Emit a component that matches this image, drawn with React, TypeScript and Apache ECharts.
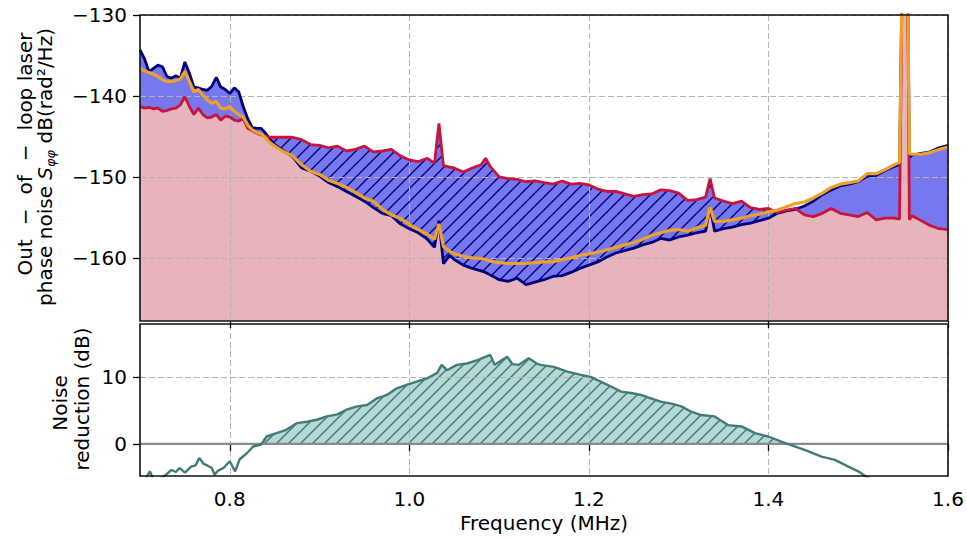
import React, { useEffect, useRef } from "react";
import * as echarts from "echarts";

// ---------- data ----------
const freq = [
  0.700, 0.705, 0.710, 0.715, 0.720, 0.725, 0.730, 0.735, 0.740, 0.745,
  0.750, 0.755, 0.760, 0.765, 0.770, 0.775, 0.780, 0.785, 0.790, 0.795,
  0.800, 0.805, 0.810, 0.815, 0.820, 0.825, 0.830, 0.835, 0.840, 0.845,
  0.850, 0.86, 0.87, 0.88, 0.89, 0.90, 0.91, 0.92, 0.93, 0.94,
  0.95, 0.96, 0.97, 0.98, 0.99, 1.00, 1.01, 1.02, 1.028, 1.033,
  1.038, 1.045, 1.05, 1.06, 1.07, 1.08, 1.085, 1.09, 1.10, 1.11,
  1.12, 1.13, 1.14, 1.15, 1.16, 1.17, 1.18, 1.19, 1.20, 1.21,
  1.22, 1.23, 1.24, 1.25, 1.26, 1.27, 1.28, 1.29, 1.30, 1.31,
  1.32, 1.33, 1.335, 1.34, 1.35, 1.36, 1.37, 1.38, 1.39, 1.40,
  1.41, 1.42, 1.43, 1.44, 1.45, 1.46, 1.47, 1.48, 1.49, 1.50,
  1.51, 1.52, 1.53, 1.54, 1.546, 1.549, 1.555, 1.557, 1.56, 1.57,
  1.58, 1.59, 1.60,
];

const noiseNavy = [
  -134.3, -135.4, -137.0, -136.6, -136.2, -136.4, -137.6, -137.8, -137.5, -137.8,
  -135.8, -137.2, -138.9, -139.0, -139.2, -139.3, -138.8, -137.7, -138.9, -139.2,
  -139.7, -139.0, -139.5, -141.3, -142.8, -143.9, -144.0, -144.0, -144.6, -145.4,
  -146.0, -146.8, -147.5, -148.9, -149.3, -149.9, -150.7, -151.2, -151.8, -152.4,
  -153.0, -153.8, -154.5, -154.8, -155.8, -156.4, -156.9, -157.7, -158.7, -155.4,
  -160.7, -159.7, -160.2, -160.9, -161.3, -161.6, -161.8, -162.1, -162.7, -162.9,
  -162.5, -163.3, -163.0, -162.7, -162.3, -162.2, -161.8, -161.3, -160.9, -160.5,
  -159.9, -159.4, -159.1, -158.8, -158.4, -158.1, -157.6, -157.8, -157.4, -157.2,
  -156.9, -156.7, -153.7, -156.7, -156.4, -156.2, -155.9, -155.7, -155.4, -155.1,
  -154.5, -154.2, -154.0, -153.6, -153.0, -152.2, -151.6, -151.1, -150.9, -150.6,
  -149.9, -149.8, -149.2, -148.7, -148.5, -125.0, -125.0, -147.6, -147.3, -147.1,
  -146.9, -146.4, -146.1,
];

const noiseRed = [
  -141.3, -141.5, -141.4, -141.6, -141.5, -141.9, -141.8, -141.6, -141.5, -141.1,
  -140.1, -141.3, -142.3, -141.5, -142.3, -142.7, -142.6, -142.3, -143.0, -142.5,
  -142.6, -143.0, -143.1, -142.8, -144.0, -144.3, -144.6, -144.8, -145.0, -145.1,
  -145.1, -145.1, -145.1, -145.4, -146.0, -146.1, -146.4, -146.2, -146.8, -146.6,
  -146.2, -146.9, -146.8, -146.6, -147.4, -147.9, -148.1, -147.7, -148.3, -143.4,
  -148.6, -148.8, -148.9, -149.4, -148.9, -148.5, -147.7, -148.7, -150.0, -150.2,
  -150.3, -150.6, -150.5, -150.7, -150.9, -150.5, -150.9, -150.8, -151.0, -151.5,
  -151.8, -151.8, -152.1, -152.4, -152.2, -152.1, -151.6, -151.7, -152.0, -152.9,
  -152.8, -152.5, -150.2, -152.6, -153.0, -153.3, -153.0, -153.8, -154.0, -153.9,
  -154.4, -154.1, -153.9, -154.7, -154.9, -154.5, -153.9, -154.5, -154.7, -154.9,
  -154.4, -155.3, -155.1, -155.1, -155.2, -125.0, -125.0, -155.3, -154.8, -155.4,
  -156.0, -156.4, -156.5,
];

const noiseOrange = [
  -136.6, -136.9, -137.1, -137.3, -137.6, -138.0, -138.2, -138.2, -138.1, -137.9,
  -137.0, -138.2, -139.5, -139.2, -139.9, -140.5, -140.9, -140.7, -141.5, -141.6,
  -141.3, -141.9, -142.3, -142.6, -143.6, -144.2, -144.5, -144.7, -145.2, -145.8,
  -146.2, -146.9, -147.4, -148.5, -149.3, -149.7, -150.4, -150.8, -151.3, -151.9,
  -152.6, -153.0, -154.0, -154.7, -155.1, -155.9, -156.5, -157.1, -157.7, -155.8,
  -158.6, -159.2, -159.5, -159.8, -160.0, -160.1, -160.2, -160.4, -160.6, -160.7,
  -160.7, -160.7, -160.6, -160.5, -160.5, -160.2, -160.0, -159.7, -159.5, -159.3,
  -159.0, -158.7, -158.4, -158.1, -157.7, -157.2, -156.9, -156.6, -156.5, -156.7,
  -156.3, -156.0, -153.7, -155.5, -155.5, -155.3, -155.1, -154.8, -154.6, -154.3,
  -154.1, -153.7, -153.3, -153.1, -152.6, -152.0, -151.3, -150.9, -150.7, -150.5,
  -149.6, -149.6, -149.1, -148.5, -148.2, -125.0, -125.0, -147.1, -147.2, -147.2,
  -147.0, -146.6, -146.3,
];

const reductionFreq = [
  0.700, 0.705, 0.711, 0.716, 0.722, 0.729, 0.735, 0.740, 0.744, 0.750,
  0.757, 0.762, 0.766, 0.771, 0.776, 0.780, 0.783, 0.787, 0.793, 0.800,
  0.806, 0.811, 0.819, 0.826, 0.835, 0.841, 0.852, 0.863, 0.875, 0.886,
  0.897, 0.908, 0.920, 0.930, 0.942, 0.953, 0.964, 0.975, 0.986, 0.997,
  1.008, 1.020, 1.031, 1.036, 1.042, 1.053, 1.064, 1.076, 1.090, 1.095,
  1.109, 1.115, 1.122, 1.133, 1.142, 1.146, 1.161, 1.176, 1.191, 1.202,
  1.213, 1.224, 1.236, 1.247, 1.258, 1.269, 1.280, 1.292, 1.303, 1.314,
  1.325, 1.340, 1.355, 1.370, 1.385, 1.400, 1.415, 1.430, 1.444, 1.459,
  1.474, 1.489, 1.500, 1.509, 1.520, 1.540, 1.560, 1.580, 1.600,
];

const reduction = [
  -6.0, -5.5, -4.1, -5.6, -5.3, -4.6, -3.9, -4.2, -3.6, -4.3,
  -3.4, -3.2, -2.1, -3.0, -3.3, -3.6, -4.6, -4.0, -3.6, -2.6,
  -4.1, -2.3, -1.4, -0.4, -0.1, 1.1, 1.6, 2.1, 3.1, 3.3,
  3.6, 4.1, 4.4, 5.1, 5.6, 5.8, 6.8, 7.3, 8.3, 8.8,
  9.3, 9.8, 10.6, 11.8, 11.0, 11.8, 12.0, 12.5, 13.3, 11.8,
  13.0, 11.9, 11.8, 12.8, 12.0, 11.8, 11.5, 10.8, 10.3, 10.0,
  9.3, 8.6, 7.8, 7.6, 7.3, 6.8, 6.3, 6.0, 5.6, 4.8,
  4.3, 4.1, 2.8, 2.6, 1.6, 1.1, 0.3, -0.4, -1.1, -1.9,
  -2.4, -3.4, -4.1, -4.9, -5.6, -7.0, -8.5, -10.0, -11.0,
];

const xTicks = [0.8, 1.0, 1.2, 1.4, 1.6];
const yTicksTop = [-160, -150, -140, -130];
const yTicksBottom = [0, 10];

// ---------- styles ----------
const FONT = "DejaVu Sans";
const BLUE = "#7777ee";
const PINK = "#e8b4bc";
const NAVY = "#00007f";
const RED = "#c8143c";
const ORANGE = "#eca22a";
const TEAL = "#427b78";
const TEAL_FILL = "#b4d9d6";
const GRID_C = "#b4b4b4";
const ZERO_C = "#8a8a8a";

function pairs(xs: number[], ys: number[]) {
  const n = Math.min(xs.length, ys.length);
  const out: number[][] = [];
  for (let i = 0; i < n; i++) out.push([xs[i], ys[i]]);
  return out;
}

function envelope(xs: number[], a: number[], b: number[], useMax: boolean) {
  const n = Math.min(xs.length, a.length, b.length);
  const out: number[][] = [];
  for (let i = 0; i < n; i++) {
    out.push([xs[i], useMax ? Math.max(a[i], b[i]) : Math.min(a[i], b[i])]);
    if (i < n - 1) {
      const d0 = a[i] - b[i];
      const d1 = a[i + 1] - b[i + 1];
      if (d0 * d1 < 0) {
        const t = d0 / (d0 - d1);
        out.push([xs[i] + t * (xs[i + 1] - xs[i]), a[i] + t * (a[i + 1] - a[i])]);
      }
    }
  }
  return out;
}

function hatch(color: string, size: number, width: number) {
  const c = document.createElement("canvas");
  c.width = size;
  c.height = size;
  const ctx = c.getContext("2d")!;
  ctx.strokeStyle = color;
  ctx.lineWidth = width;
  ctx.beginPath();
  ctx.moveTo(0, size);
  ctx.lineTo(size, 0);
  ctx.moveTo(-2, 2);
  ctx.lineTo(2, -2);
  ctx.moveTo(size - 2, size + 2);
  ctx.lineTo(size + 2, size - 2);
  ctx.stroke();
  return { image: c.toDataURL(), repeat: "repeat", imageWidth: size, imageHeight: size };
}

const minus = (v: number) => (v < 0 ? "\u2212" + Math.abs(v) : String(v));

export default function App() {
  const ref = useRef<HTMLDivElement>(null);

  useEffect(() => {
    if (!ref.current) return;
    const chart = echarts.init(ref.current, null, { renderer: "svg" });

    const zeros = reduction.map(() => 0);
    const hatchNavy = hatch(NAVY, 13, 1.4);
    const hatchTeal = hatch(TEAL, 12, 1.5);

    const baseX = {
      type: "value",
      min: 0.7,
      max: 1.6,
      splitNumber: 5,
      z: 4,
      axisLine: { show: false },
      axisTick: {
        show: true,
        length: 7,
        customValues: xTicks,
        lineStyle: { color: "#000", width: 1.3 },
      },
      splitLine: { show: true, lineStyle: { color: GRID_C, type: [6, 3], width: 1 } },
    };
    const baseY = {
      type: "value",
      z: 4,
      axisLine: { show: false },
      splitLine: { show: true, lineStyle: { color: GRID_C, type: [6, 3], width: 1 } },
    };

    const option: any = {
      animation: false,
      backgroundColor: "#fff",
      textStyle: { fontFamily: FONT },
      grid: [
        { left: 140, top: 15, width: 808, height: 306, containLabel: false, outerBoundsMode: "none" },
        { left: 140, top: 324, width: 808, height: 152, containLabel: false, outerBoundsMode: "none" },
      ],
      xAxis: [
        {
          ...baseX,
          gridIndex: 0,
          axisLabel: { show: false, customValues: xTicks },
        },
        {
          ...baseX,
          gridIndex: 1,
          axisLabel: {
            show: true,
            customValues: xTicks,
            fontSize: 20,
            fontFamily: FONT,
            color: "#000",
            margin: 13,
            formatter: (v: number) => v.toFixed(1),
          },
          name: "Frequency (MHz)",
          nameLocation: "middle",
          nameGap: 37,
          nameTextStyle: { fontSize: 20, fontFamily: FONT, color: "#000" },
        },
      ],
      yAxis: [
        {
          ...baseY,
          gridIndex: 0,
          min: -167.8,
          max: -130,
          splitNumber: 4,
          axisTick: { show: true, length: 7, customValues: yTicksTop, lineStyle: { color: "#000", width: 1.3 } },
          axisLabel: {
            customValues: yTicksTop,
            fontSize: 20,
            fontFamily: FONT,
            color: "#000",
            margin: 13,
            formatter: (v: number) => minus(v),
          },
        },
        {
          ...baseY,
          gridIndex: 1,
          min: -4.8,
          max: 17.9,
          splitNumber: 2,
          axisTick: { show: true, length: 7, customValues: yTicksBottom, lineStyle: { color: "#000", width: 1.3 } },
          axisLabel: {
            customValues: yTicksBottom,
            fontSize: 20,
            fontFamily: FONT,
            color: "#000",
            margin: 13,
            formatter: (v: number) => minus(v),
          },
        },
      ],
      series: [
        // top panel fills
        {
          type: "line", xAxisIndex: 0, yAxisIndex: 0, z: 1, silent: true,
          data: envelope(freq, noiseNavy, noiseRed, true),
          symbol: "none", lineStyle: { width: 0, opacity: 0 },
          areaStyle: { color: BLUE, opacity: 1, origin: "start" },
        },
        {
          type: "line", xAxisIndex: 0, yAxisIndex: 0, z: 2, silent: true,
          data: pairs(freq, noiseRed),
          symbol: "none", lineStyle: { width: 0, opacity: 0 },
          areaStyle: { color: hatchNavy, opacity: 1, origin: "start" },
        },
        {
          type: "line", xAxisIndex: 0, yAxisIndex: 0, z: 3, silent: true,
          data: envelope(freq, noiseNavy, noiseRed, false),
          symbol: "none", lineStyle: { width: 0, opacity: 0 },
          areaStyle: { color: PINK, opacity: 1, origin: "start" },
        },
        // top panel lines
        {
          type: "line", xAxisIndex: 0, yAxisIndex: 0, z: 5, silent: true,
          data: pairs(freq, noiseNavy), symbol: "none",
          lineStyle: { color: NAVY, width: 2.8 },
        },
        {
          type: "line", xAxisIndex: 0, yAxisIndex: 0, z: 6, silent: true,
          data: pairs(freq, noiseRed), symbol: "none",
          lineStyle: { color: RED, width: 2.8 },
        },
        {
          type: "line", xAxisIndex: 0, yAxisIndex: 0, z: 7, silent: true,
          data: pairs(freq, noiseOrange), symbol: "none",
          lineStyle: { color: ORANGE, width: 3.2 },
        },
        // bottom panel
        {
          type: "line", xAxisIndex: 1, yAxisIndex: 1, z: 1, silent: true,
          data: envelope(reductionFreq, reduction, zeros, true),
          symbol: "none", lineStyle: { width: 0, opacity: 0 },
          areaStyle: { color: TEAL_FILL, opacity: 1, origin: "auto" },
        },
        {
          type: "line", xAxisIndex: 1, yAxisIndex: 1, z: 2, silent: true,
          data: envelope(reductionFreq, reduction, zeros, true),
          symbol: "none", lineStyle: { width: 0, opacity: 0 },
          areaStyle: { color: hatchTeal, opacity: 1, origin: "auto" },
        },
        {
          type: "line", xAxisIndex: 1, yAxisIndex: 1, z: 5, silent: true,
          data: [[0.7, 0], [1.6, 0]], symbol: "none",
          lineStyle: { color: ZERO_C, width: 2.2 },
        },
        {
          type: "line", xAxisIndex: 1, yAxisIndex: 1, z: 6, silent: true,
          data: pairs(reductionFreq, reduction), symbol: "none",
          lineStyle: { color: TEAL, width: 2.4 },
        },
      ],
      graphic: [
        {
          type: "rect", z: 100, silent: true,
          shape: { x: 140, y: 15, width: 808, height: 306 },
          style: { fill: "none", stroke: "#111", lineWidth: 1.6 },
        },
        {
          type: "rect", z: 100, silent: true,
          shape: { x: 140, y: 324, width: 808, height: 152 },
          style: { fill: "none", stroke: "#111", lineWidth: 1.6 },
        },
        {
          type: "text", z: 100, x: 25, y: 154, rotation: Math.PI / 2,
          style: {
            text: "{a|Out}{m|\u2212}{a|of}{m|\u2212}{a|loop laser}",
            align: "center", verticalAlign: "middle", fill: "#000",
            rich: {
              a: { fontSize: 20, fontFamily: FONT, fill: "#000" },
              m: { fontSize: 20, fontFamily: FONT, fill: "#000", padding: [0, 14, 0, 14] },
            },
          },
        },
        {
          type: "text", z: 100, x: 46, y: 167, rotation: Math.PI / 2,
          style: {
            text: "{a|phase noise }{s|S}{sub|\u03c6\u03c6}{a| dB(rad\u00b2/Hz)}",
            align: "center", verticalAlign: "middle", fill: "#000",
            rich: {
              a: { fontSize: 20, fontFamily: FONT, fill: "#000", padding: [0, 0, 2, 0] },
              s: { fontSize: 20, fontFamily: FONT, fontStyle: "italic", fill: "#000", padding: [0, 0, 2, 0] },
              sub: { fontSize: 13, lineHeight: 13, fontFamily: FONT, fontStyle: "italic", fill: "#000", verticalAlign: "bottom" },
            },
          },
        },
        {
          type: "text", z: 100, x: 60, y: 403, rotation: Math.PI / 2,
          style: {
            text: "Noise", fontSize: 20, fontFamily: FONT, fill: "#000",
            align: "center", verticalAlign: "middle",
          },
        },
        {
          type: "text", z: 100, x: 82, y: 399, rotation: Math.PI / 2,
          style: {
            text: "reduction (dB)", fontSize: 20, fontFamily: FONT, fill: "#000",
            align: "center", verticalAlign: "middle",
          },
        },
      ],
    };

    chart.setOption(option);
    return () => chart.dispose();
  }, []);

  return (
    <div
      ref={ref}
      style={{ position: "fixed", left: 0, top: 0, width: 967, height: 539, background: "#fff" }}
    />
  );
}
